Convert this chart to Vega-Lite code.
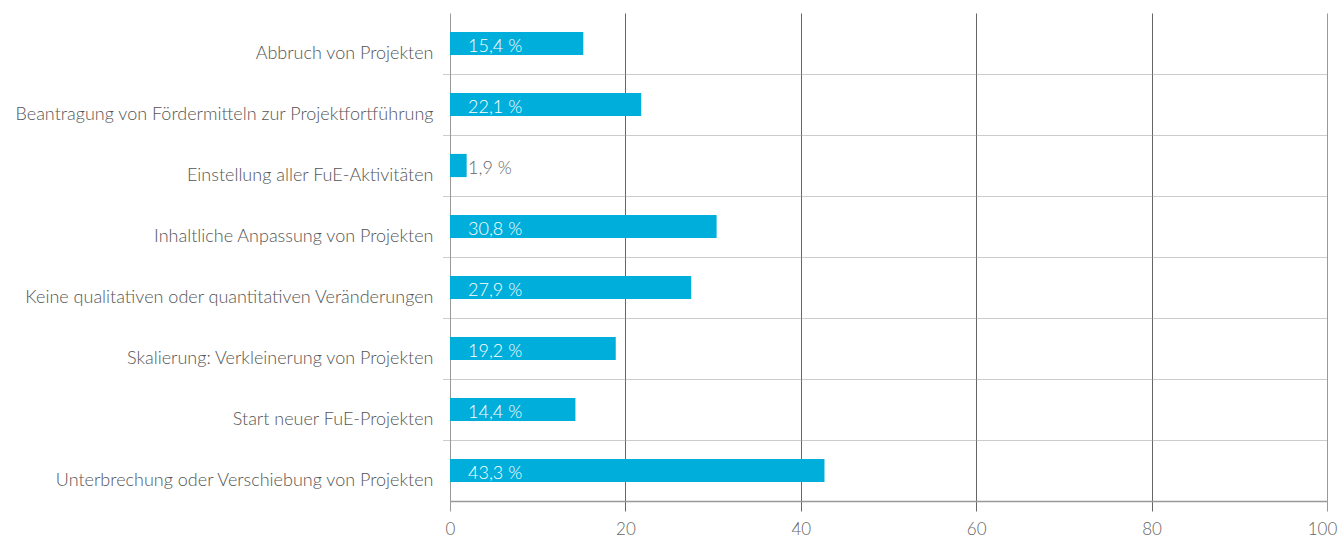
{
  "$schema": "https://vega.github.io/schema/vega-lite/v6.json",
  "width": 877,
  "height": 488,
  "autosize": {"type": "none"},
  "padding": {"left": 450, "top": 13, "right": 14, "bottom": 37},
  "config": {"view": {"stroke": null}, "font": "Lato"},
  "data": {
    "values": [
      {"kategorie": "Abbruch von Projekten", "wert": 15.4, "balken": 15.2, "label": "15,4 %"},
      {"kategorie": "Beantragung von Fördermitteln zur Projektfortführung", "wert": 22.1, "balken": 21.8, "label": "22,1 %"},
      {"kategorie": "Einstellung aller FuE-Aktivitäten", "wert": 1.9, "balken": 1.9, "label": "1,9 %"},
      {"kategorie": "Inhaltliche Anpassung von Projekten", "wert": 30.8, "balken": 30.4, "label": "30,8 %"},
      {"kategorie": "Keine qualitativen oder quantitativen Veränderungen", "wert": 27.9, "balken": 27.5, "label": "27,9 %"},
      {"kategorie": "Skalierung: Verkleinerung von Projekten", "wert": 19.2, "balken": 18.9, "label": "19,2 %"},
      {"kategorie": "Start neuer FuE-Projekten", "wert": 14.4, "balken": 14.3, "label": "14,4 %"},
      {"kategorie": "Unterbrechung oder Verschiebung von Projekten", "wert": 43.3, "balken": 42.7, "label": "43,3 %"}
    ]
  },
  "encoding": {
    "y": {
      "field": "kategorie",
      "type": "nominal",
      "sort": null,
      "scale": {"paddingInner": 0.62, "paddingOuter": 0.31},
      "axis": {
        "title": null,
        "bandPosition": -0.8157,
        "grid": true,
        "gridDash": [1, 1],
        "gridColor": "#999",
        "gridOpacity": {"condition": {"test": "datum.value === 'Abbruch von Projekten'", "value": 0}, "value": 1},
        "ticks": true,
        "tickSize": 7,
        "tickDash": [1, 1],
        "tickColor": "#999",
        "tickOpacity": {"condition": {"test": "datum.value === 'Abbruch von Projekten'", "value": 0}, "value": 1},
        "domain": false,
        "labelOffset": 15,
        "labelBaseline": "alphabetic",
        "labelPadding": 10,
        "labelFont": "Lato",
        "labelFontSize": 18,
        "labelFontWeight": 300,
        "labelColor": "#555",
        "labelLimit": 600
      }
    }
  },
  "layer": [
    {
      "mark": {"type": "bar", "color": "#00aedc"},
      "encoding": {
        "x": {
          "field": "balken",
          "type": "quantitative",
          "scale": {"domain": [0, 100], "nice": false},
          "axis": {
            "title": null,
            "values": [0, 20, 40, 60, 80, 100],
            "grid": true,
            "gridColor": {"condition": {"test": "datum.value == 0 || datum.value == 100", "value": "#999"}, "value": "#666"},
            "tickColor": {"condition": {"test": "datum.value == 0 || datum.value == 100", "value": "#999"}, "value": "#666"},
            "tickSize": 10,
            "domainColor": "#999",
            "domainWidth": 1.5,
            "labelFlush": false,
            "labelOffset": {"condition": {"test": "datum.value == 100", "value": -5}, "value": 0},
            "labelFont": "Lato",
            "labelFontSize": 17,
            "labelFontWeight": 300,
            "labelColor": "#666",
            "labelPadding": 10
          }
        }
      }
    },
    {
      "mark": {"type": "text", "align": "left", "baseline": "alphabetic", "dx": 18, "dy": 8, "fontSize": 18, "fontWeight": 300, "font": "Lato"},
      "encoding": {
        "x": {"datum": 0, "type": "quantitative"},
        "text": {"field": "label"},
        "color": {"condition": {"test": "datum.wert > 5", "value": "#ffffff"}, "value": "#666666"}
      }
    }
  ]
}
